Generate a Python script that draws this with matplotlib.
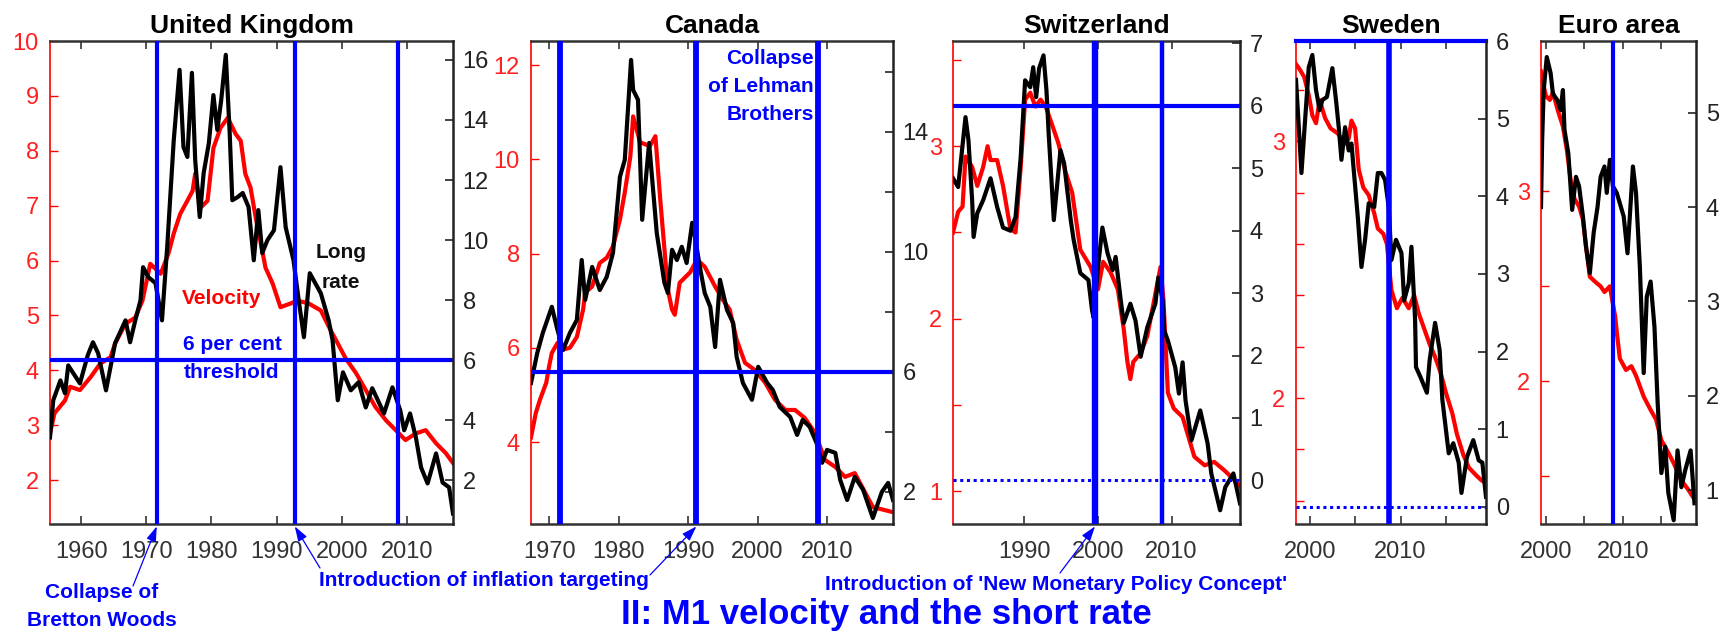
import matplotlib
matplotlib.use("Agg")
import matplotlib.pyplot as plt

plt.rcParams["font.family"] = ["Liberation Sans", "DejaVu Sans"]

# ---- data ----
# United Kingdom
uk_rate_x = [1955.2, 1955.7, 1956.8, 1957.5, 1958.0, 1959.8, 1961.0, 1961.8, 1962.6, 1963.8, 1965.2, 1966.8,
             1967.5, 1968.3, 1969.1, 1969.5, 1970.3, 1971.4, 1972.4, 1973.2, 1974.2, 1975.1, 1975.7, 1976.3,
             1977.0, 1977.5, 1978.2, 1978.8, 1979.6, 1980.3, 1980.9, 1981.5, 1982.2, 1982.8, 1983.2, 1984.0,
             1984.8, 1985.7, 1986.5, 1987.2, 1987.8, 1988.6, 1989.6, 1990.6, 1991.4, 1992.6, 1993.4, 1994.2,
             1995.1, 1996.8, 1998.0, 1998.6, 1999.4, 2000.2, 2001.4, 2002.6, 2003.7, 2004.7, 2006.5, 2007.8,
             2009.0, 2009.6, 2010.5, 2011.4, 2012.2, 2013.2, 2014.5, 2015.5, 2016.5, 2017.1]
uk_rate = [3.43, 4.67, 5.33, 4.9, 5.83, 5.23, 6.17, 6.6, 6.23, 5.0, 6.57, 7.33,
           6.6, 7.33, 8.0, 9.1, 8.77, 8.57, 7.33, 9.77, 13.3, 15.67, 13.1, 12.77,
           15.57, 12.67, 10.77, 12.23, 13.23, 14.83, 13.67, 14.67, 16.17, 13.57, 11.33, 11.43,
           11.57, 11.1, 9.33, 11.0, 9.57, 10.0, 10.33, 12.43, 10.43, 9.33, 8.0, 6.77,
           8.9, 8.23, 7.33, 6.67, 4.67, 5.6, 5.0, 5.27, 4.43, 5.07, 4.23, 5.1,
           4.33, 3.67, 4.23, 3.43, 2.43, 1.9, 2.9, 1.93, 1.77, 0.9]
uk_vel_x = [1955.2, 1955.9, 1957.5, 1958.3, 1959.8, 1961.4, 1962.9, 1964.5, 1965.2, 1966.8, 1968.3, 1969.4,
            1970.6, 1972.2, 1973.4, 1974.2, 1975.2, 1976.3, 1977.1, 1977.5, 1978.3, 1979.4, 1980.3, 1981.4,
            1982.5, 1983.7, 1984.5, 1985.2, 1986.0, 1986.8, 1987.5, 1988.3, 1989.4, 1990.6, 1992.2, 1993.2,
            1994.9, 1996.8, 1998.3, 1999.4, 2000.6, 2002.2, 2003.7, 2005.2, 2006.8, 2008.3, 2009.8, 2011.4,
            2012.9, 2014.5, 2016.0, 2017.1]
uk_vel = [2.85, 3.22, 3.45, 3.7, 3.64, 3.87, 4.12, 4.24, 4.49, 4.85, 4.96, 5.27,
          5.94, 5.76, 6.13, 6.49, 6.85, 7.09, 7.27, 7.58, 6.96, 7.09, 8.05, 8.42,
          8.6, 8.31, 8.18, 7.58, 7.33, 6.78, 6.36, 5.87, 5.58, 5.15, 5.22, 5.27,
          5.22, 5.09, 4.73, 4.49, 4.22, 3.95, 3.64, 3.33, 3.09, 2.91, 2.73, 2.85,
          2.91, 2.67, 2.49, 2.31]

# Canada
ca_rate_x = [1967.4, 1968.3, 1969.1, 1970.4, 1971.1, 1972.0, 1973.0, 1974.0, 1974.7, 1975.2, 1976.2, 1977.3,
             1978.3, 1979.2, 1980.2, 1980.9, 1981.8, 1982.1, 1982.8, 1983.4, 1984.4, 1985.5, 1986.6, 1987.1,
             1987.7, 1988.4, 1989.1, 1989.8, 1990.6, 1991.0, 1991.7, 1992.4, 1993.2, 1993.9, 1994.6, 1995.6,
             1996.5, 1997.0, 1997.9, 1999.2, 2000.1, 2001.4, 2002.2, 2003.2, 2004.7, 2005.7, 2006.5, 2007.5,
             2008.5, 2009.3, 2010.0, 2011.2, 2011.9, 2012.9, 2014.0, 2015.2, 2016.6, 2017.9, 2018.8, 2019.5]
ca_rate = [5.63, 6.63, 7.3, 8.17, 7.5, 6.73, 7.3, 7.73, 9.73, 8.4, 9.5, 8.73,
           9.17, 9.97, 12.5, 13.07, 16.4, 15.4, 15.07, 11.07, 13.63, 10.63, 8.97, 8.63,
           10.07, 9.73, 10.17, 9.63, 10.97, 10.5, 9.5, 8.63, 8.17, 6.83, 9.07, 8.07,
           7.63, 6.5, 5.63, 5.07, 6.17, 5.63, 5.4, 4.83, 4.5, 3.9, 4.4, 4.17,
           3.63, 2.97, 3.4, 3.3, 2.4, 1.73, 2.5, 2.07, 1.13, 2.0, 2.3, 1.73]
ca_vel_x = [1967.4, 1968.1, 1968.7, 1969.6, 1970.0, 1970.4, 1971.2, 1972.0, 1973.0, 1974.0, 1974.9, 1975.2,
            1976.2, 1977.3, 1978.3, 1979.2, 1980.2, 1980.9, 1981.7, 1982.1, 1983.1, 1984.5, 1985.3, 1986.0,
            1987.1, 1987.7, 1988.1, 1988.8, 1990.3, 1991.3, 1992.4, 1993.9, 1995.0, 1996.0, 1997.0, 1998.2,
            1999.6, 2001.1, 2002.5, 2004.0, 2005.4, 2006.8, 2008.3, 2009.7, 2011.2, 2012.6, 2014.0, 2016.6,
            2019.5]
ca_vel = [4.1, 4.62, 4.9, 5.26, 5.6, 5.89, 6.1, 5.96, 6.0, 6.23, 6.81, 7.17,
          7.3, 7.8, 7.91, 8.15, 8.72, 9.3, 10.06, 10.91, 10.36, 10.28, 10.49, 9.15,
          7.23, 6.81, 6.7, 7.38, 7.6, 7.87, 7.72, 7.3, 7.02, 6.81, 6.17, 5.68,
          5.53, 5.26, 4.9, 4.68, 4.68, 4.51, 4.19, 3.62, 3.47, 3.26, 3.34, 2.62,
          2.51]

# Switzerland
ch_rate_x = [1980.3, 1981.0, 1982.0, 1982.4, 1982.9, 1983.1, 1983.6, 1984.4, 1985.4, 1986.3, 1987.1, 1988.1,
             1988.8, 1989.5, 1990.1, 1990.8, 1991.2, 1991.6, 1992.0, 1992.6, 1993.0, 1993.3, 1994.0, 1994.9,
             1995.4, 1996.3, 1996.7, 1997.6, 1998.7, 1999.2, 1999.4, 2000.0, 2000.6, 2001.3, 2002.0, 2002.4,
             2003.1, 2003.5, 2004.4, 2005.1, 2005.8, 2006.7, 2007.8, 2008.2, 2008.8, 2009.0, 2009.5, 2010.5,
             2011.0, 2011.5, 2011.9, 2012.7, 2013.9, 2014.9, 2015.4, 2016.6, 2017.3, 2018.4, 2019.3]
ch_rate = [4.84, 4.7, 5.82, 5.45, 4.49, 3.9, 4.28, 4.49, 4.84, 4.38, 4.05, 4.0,
           4.22, 5.18, 6.41, 6.3, 6.62, 6.14, 6.6, 6.81, 6.25, 5.56, 4.17, 5.29,
           5.08, 4.17, 3.85, 3.32, 3.21, 2.72, 2.61, 3.41, 4.05, 3.64, 3.37, 3.58,
           2.88, 2.52, 2.83, 2.56, 1.98, 2.45, 2.83, 3.25, 2.88, 2.4, 2.24, 1.81,
           1.39, 1.89, 1.28, 0.64, 1.12, 0.59, 0.11, -0.48, -0.11, 0.11, -0.37]
ch_vel_x = [1980.3, 1981.0, 1981.6, 1982.0, 1982.9, 1983.6, 1984.4, 1985.0, 1985.4, 1986.3, 1987.1, 1988.1,
            1988.8, 1989.5, 1990.1, 1990.8, 1991.5, 1992.2, 1992.9, 1993.8, 1994.6, 1995.6, 1996.5, 1997.6,
            1999.0, 2000.0, 2000.7, 2001.7, 2002.7, 2003.5, 2004.0, 2004.4, 2004.8, 2005.8, 2006.7, 2007.6,
            2008.5, 2008.9, 2009.5, 2010.3, 2011.5, 2012.4, 2013.1, 2014.5, 2015.8, 2017.2, 2018.4, 2019.3]
ch_vel = [2.5, 2.62, 2.65, 2.94, 2.88, 2.77, 2.88, 3.0, 2.92, 2.92, 2.77, 2.52,
          2.5, 2.88, 3.27, 3.31, 3.23, 3.27, 3.23, 3.12, 3.02, 2.85, 2.73, 2.4,
          2.3, 2.17, 2.33, 2.27, 2.17, 1.94, 1.75, 1.65, 1.75, 1.8, 1.9, 2.1,
          2.3, 2.11, 1.57, 1.48, 1.43, 1.3, 1.2, 1.15, 1.17, 1.12, 1.07, 1.03]

# Sweden
se_rate_x = [1998.5, 1998.7, 1999.1, 1999.4, 1999.9, 2000.3, 2000.7, 2001.1, 2001.4, 2001.9, 2002.5, 2002.9,
             2003.2, 2003.5, 2003.9, 2004.3, 2004.6, 2005.3, 2005.7, 2006.1, 2006.5, 2007.1, 2007.5, 2007.9,
             2008.3, 2008.7, 2009.0, 2009.5, 2010.1, 2010.4, 2010.9, 2011.2, 2011.6, 2011.7, 2012.2, 2012.9,
             2013.2, 2013.8, 2014.3, 2014.6, 2015.3, 2015.8, 2016.4, 2016.7, 2017.3, 2018.0, 2018.6, 2019.0,
             2019.4]
se_rate = [5.5, 5.11, 4.3, 4.81, 5.66, 5.82, 5.37, 5.11, 5.24, 5.28, 5.65, 5.24,
           4.89, 4.47, 4.89, 4.59, 4.68, 3.73, 3.09, 3.44, 3.91, 3.86, 4.3, 4.3,
           4.21, 3.86, 3.18, 3.44, 3.27, 2.66, 2.88, 3.35, 2.41, 1.8, 1.67, 1.47,
           1.89, 2.37, 2.02, 1.38, 0.69, 0.82, 0.57, 0.18, 0.64, 0.86, 0.6, 0.57,
           0.13]
se_vel_x = [1998.5, 1998.9, 1999.4, 1999.9, 2000.3, 2000.7, 2001.1, 2001.7, 2002.3, 2003.1, 2003.9, 2004.3,
            2004.6, 2005.0, 2005.4, 2005.9, 2006.5, 2007.1, 2007.5, 2008.1, 2008.5, 2009.0, 2009.6, 2010.2,
            2010.9, 2011.5, 2012.0, 2012.7, 2013.2, 2013.8, 2014.4, 2015.0, 2015.7, 2016.2, 2016.9, 2017.5,
            2018.3, 2018.9, 2019.4]
se_vel = [3.3, 3.28, 3.25, 3.18, 3.1, 3.07, 3.16, 3.09, 3.05, 3.03, 2.99, 3.01,
          3.08, 3.05, 2.89, 2.82, 2.79, 2.72, 2.66, 2.64, 2.6, 2.42, 2.35, 2.39,
          2.35, 2.4, 2.33, 2.26, 2.21, 2.16, 2.1, 2.02, 1.94, 1.86, 1.78, 1.73,
          1.7, 1.68, 1.67]

# Euro area
ea_rate_x = [1999.35, 1999.5, 1999.7, 2000.1, 2000.6, 2000.9, 2001.5, 2001.9, 2002.2, 2002.4, 2002.9, 2003.4,
             2003.9, 2004.3, 2004.8, 2005.2, 2005.7, 2006.2, 2006.7, 2007.1, 2007.6, 2007.9, 2008.3, 2008.7,
             2009.2, 2009.6, 2010.1, 2010.6, 2011.3, 2011.7, 2012.2, 2012.7, 2013.1, 2013.6, 2014.1, 2014.5,
             2015.0, 2015.5, 2015.9, 2016.6, 2017.1, 2017.6, 2018.1, 2018.8, 2019.3]
ea_rate = [4.0, 4.71, 5.24, 5.59, 5.42, 5.2, 5.13, 5.03, 5.24, 4.82, 4.57, 3.97,
           4.32, 4.22, 3.9, 3.58, 3.3, 3.73, 4.0, 4.32, 4.43, 4.15, 4.5, 4.22,
           4.15, 4.04, 3.9, 3.51, 4.43, 4.15, 3.37, 2.24, 3.05, 3.21, 2.73, 1.95,
           1.18, 1.46, 0.97, 0.68, 1.42, 1.03, 1.21, 1.42, 0.86]
ea_vel_x = [1999.35, 1999.6, 2000.0, 2000.5, 2000.9, 2001.5, 2002.2, 2002.7, 2003.2, 2003.7, 2004.3, 2004.8,
            2005.2, 2005.7, 2006.5, 2007.1, 2007.6, 2008.3, 2008.6, 2009.0, 2009.2, 2009.6, 2010.4, 2011.1,
            2011.7, 2012.7, 2013.6, 2014.3, 2015.0, 2015.7, 2016.6, 2017.6, 2018.5, 2019.3]
ea_vel = [3.63, 3.57, 3.5, 3.48, 3.52, 3.43, 3.34, 3.22, 3.06, 2.96, 2.92, 2.85,
          2.71, 2.55, 2.52, 2.5, 2.47, 2.5, 2.43, 2.34, 2.26, 2.12, 2.06, 2.08,
          2.03, 1.92, 1.85, 1.8, 1.69, 1.64, 1.57, 1.48, 1.43, 1.38]

# event dates (vertical lines) and reference rate levels (horizontal lines)
bretton_woods = 1971.6
uk_targeting = 1992.8
ca_targeting = 1991.2
snb_concept = 1999.6
lehman = 2008.7
threshold = 6
zero_rate = 0

# ---- layout ----
W, H = 1730, 634
fig = plt.figure(figsize=(W / 100, H / 100), dpi=100)
BLUE = "#0000ff"


def rect(left, right, top=41, bottom=524):
    return [left / W, (H - bottom) / H, (right - left) / W, (bottom - top) / H]


def fpos(x, y):
    return x / W, 1 - y / H


def panel(r, title, xlim, vlim, rlim, xticks, xlabels, vticks, vlabels, rticks, rlabels,
          vx, v, rx, rr):
    ax = fig.add_axes(r)
    ax2 = ax.twinx()
    ax.plot(vx, v, color="red", lw=3.0, solid_joinstyle="round")
    ax2.plot(rx, rr, color="black", lw=3.0, solid_joinstyle="round")
    ax.set_xlim(*xlim)
    ax.set_ylim(*vlim)
    ax2.set_ylim(*rlim)
    ax.set_xticks(xticks)
    ax.set_xticklabels(xlabels)
    ax.set_yticks(vticks)
    ax.set_yticklabels(vlabels)
    ax2.set_yticks(rticks)
    ax2.set_yticklabels(rlabels)
    ax.xaxis.set_ticks_position("both")
    ax.tick_params(axis="x", direction="in", length=6, width=1.2, labelsize=17, pad=12,
                   color="#333333", labelcolor="#333333")
    ax.tick_params(axis="y", direction="in", length=6, width=1, labelsize=17, pad=8,
                   color="red", labelcolor="#ff2020")
    ax2.tick_params(axis="y", direction="in", length=6, width=1.2, labelsize=17, pad=7,
                    color="#222222", labelcolor="#222222")
    ax.spines["right"].set_visible(False)
    ax.spines["left"].set_color("red")
    ax.spines["left"].set_linewidth(1.2)
    for s in ("top", "bottom"):
        ax.spines[s].set_color("#333333")
        ax.spines[s].set_linewidth(1.8)
        ax2.spines[s].set_visible(False)
    ax2.spines["left"].set_visible(False)
    ax2.spines["right"].set_color("#222222")
    ax2.spines["right"].set_linewidth(1.8)
    ax.set_title(title, fontsize=19, fontweight="bold", pad=6)
    return ax, ax2


yr = lambda a: [str(t) for t in a]

# United Kingdom
uk, uk2 = panel(rect(50, 453), "United Kingdom", (1955.2, 2017.1), (1.2, 10.0), (0.55, 16.63),
                [1960, 1970, 1980, 1990, 2000, 2010], yr([1960, 1970, 1980, 1990, 2000, 2010]),
                list(range(2, 11)), yr(range(2, 11)),
                list(range(2, 17, 2)), yr(range(2, 17, 2)),
                uk_vel_x, uk_vel, uk_rate_x, uk_rate)
for d in (bretton_woods, uk_targeting, lehman):
    uk2.axvline(d, color=BLUE, lw=3.0)
uk2.axhline(threshold, color=BLUE, lw=3.0)

# Canada
ca, ca2 = panel(rect(531, 893), "Canada", (1967.4, 2019.5), (2.26, 12.51), (0.93, 17.03),
                [1970, 1980, 1990, 2000, 2010], yr([1970, 1980, 1990, 2000, 2010]),
                [4, 6, 8, 10, 12], yr([4, 6, 8, 10, 12]),
                list(range(2, 17, 2)), ["2", "", "6", "", "10", "", "14", ""],
                ca_vel_x, ca_vel, ca_rate_x, ca_rate)
for d in (bretton_woods, ca_targeting, lehman):
    ca2.axvline(d, color=BLUE, lw=4.2)
ca2.axhline(threshold, color=BLUE, lw=3.0)

# Switzerland
ch, ch2 = panel(rect(953, 1240), "Switzerland", (1980.3, 2019.3), (0.81, 3.61), (-0.70, 7.04),
                [1990, 2000, 2010], yr([1990, 2000, 2010]),
                [1, 1.5, 2, 2.5, 3, 3.5], ["1", "", "2", "", "3", ""],
                list(range(0, 8)), yr(range(0, 8)),
                ch_vel_x, ch_vel, ch_rate_x, ch_rate)
ch2.axvline(snb_concept, color=BLUE, lw=4.6)
ch2.axvline(lehman, color=BLUE, lw=3.2)
ch2.axhline(threshold, color=BLUE, lw=3.0)
ch2.axhline(zero_rate, color=BLUE, lw=2.2, ls=(0, (1, 1.2)))

# Sweden
se, se2 = panel(rect(1296, 1486), "Sweden", (1998.5, 2019.4), (1.51, 3.39), (-0.22, 6.0),
                [2000, 2005, 2010, 2015], ["2000", "", "2010", ""],
                [1.6, 1.8, 2.0, 2.2, 2.4, 2.6, 2.8, 3.0, 3.2], ["", "", "2", "", "", "", "", "3", ""],
                list(range(0, 7)), yr(range(0, 7)),
                se_vel_x, se_vel, se_rate_x, se_rate)
se2.axvline(lehman, color=BLUE, lw=4.0)
se2.axhline(threshold, color=BLUE, lw=3.0, clip_on=False)
se2.axhline(zero_rate, color=BLUE, lw=2.2, ls=(0, (1, 1.2)))

# Euro area
ea, ea2 = panel(rect(1541, 1696), "Euro area", (1999.35, 2019.5), (1.25, 3.79), (0.64, 5.76),
                [2000, 2005, 2010, 2015], ["2000", "", "2010", ""],
                [1.5, 2, 2.5, 3, 3.5], ["", "2", "", "3", ""],
                [1, 2, 3, 4, 5], yr([1, 2, 3, 4, 5]),
                ea_vel_x, ea_vel, ea_rate_x, ea_rate)
ea2.axvline(lehman, color=BLUE, lw=3.0)

# ---- annotations ----
def label(x, y, s, color=BLUE, size=15, ha="center"):
    fx, fy = fpos(x, y)
    fig.text(fx, fy, s, color=color, fontsize=size, fontweight="bold", ha=ha, va="center")


label(222, 298, "Velocity", color="red")
label(341, 253, "Long", color="#111111")
label(341, 282, "rate", color="#111111")
label(232, 345, "6 per cent")
label(232, 372, "threshold")
label(814, 58, "Collapse", ha="right")
label(814, 87, "of Lehman", ha="right")
label(814, 115, "Brothers", ha="right")
label(102, 592, "Collapse of")
label(102, 620, "Bretton Woods")
label(484, 580, "Introduction of inflation targeting")
label(1056, 585, "Introduction of 'New Monetary Policy Concept'")

arrow = dict(arrowstyle="-|>,head_length=0.9,head_width=0.3", color=BLUE, lw=0.9,
             shrinkA=0, shrinkB=0)
for a, d, tail in ((uk, bretton_woods, (133, 586)), (uk, uk_targeting, (320, 568)),
                   (ca, ca_targeting, (650, 575)), (ch, snb_concept, (1060, 573))):
    a.annotate("", xy=(d, -0.005), xycoords=("data", "axes fraction"),
               xytext=fpos(*tail), textcoords="figure fraction",
               arrowprops=arrow, annotation_clip=False)

# bottom caption (kept just inside the lower edge)
fx, fy = fpos(886, 624)
fig.text(fx, fy, "II: M1 velocity and the short rate", color=BLUE, fontsize=25,
         fontweight="bold", ha="center", va="baseline")

fig.savefig("out.png", dpi=100)
